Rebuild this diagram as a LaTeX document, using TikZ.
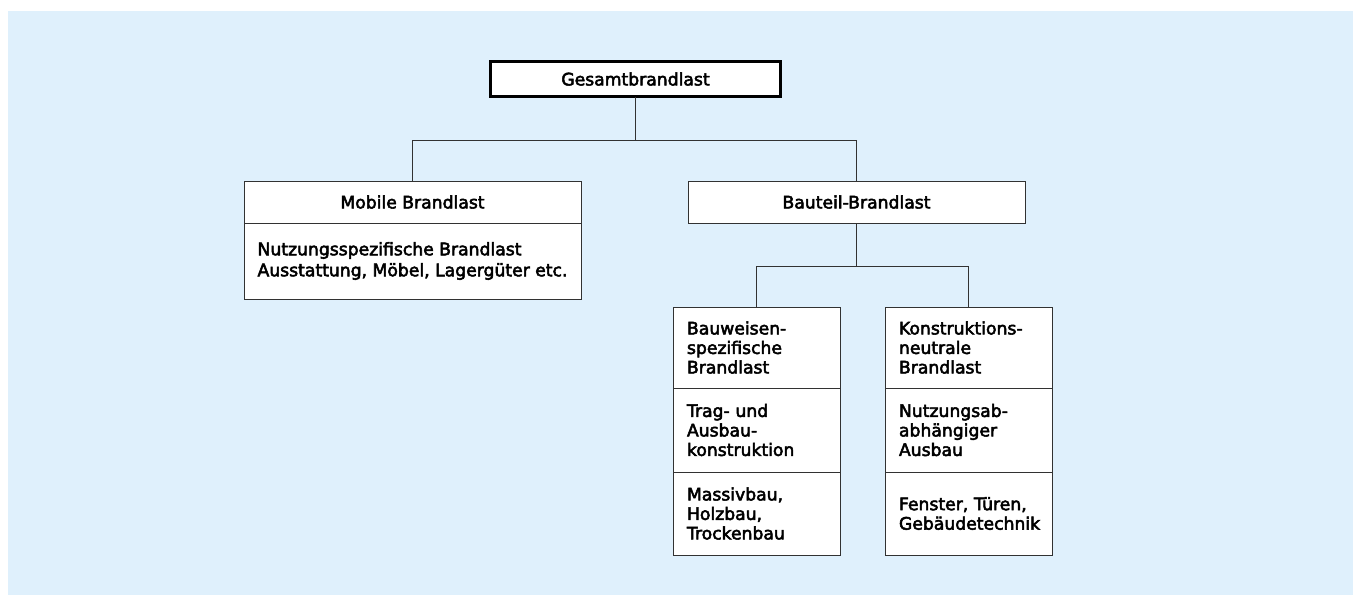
\documentclass[tikz,border=0pt]{standalone}
\usepackage{fontspec}
\setmainfont{DejaVu Sans}[FakeBold=3]
\usetikzlibrary{positioning}
\hyphenpenalty=10000
\definecolor{hgblau}{RGB}{223,240,252}
\definecolor{linie}{RGB}{50,50,50}
\tikzset{
  feld/.style={draw=linie, line width=1pt, fill=white, outer sep=0pt, inner sep=0pt,
    font=\fontsize{17.2}{19.5}\selectfont},
  kopf/.style={feld, minimum width=337pt, minimum height=42pt},
  inhalt/.style={feld, minimum width=337pt, minimum height=76pt, align=left,
    font=\fontsize{17.2}{21}\selectfont},
  spalte/.style={feld, text width=139pt, inner xsep=14pt, align=left},
  ast/.style={draw=linie, line width=1pt}
}
\begin{document}
\begin{tikzpicture}[x=1pt, y=-1pt]

% Background
\useasboundingbox (0,0) rectangle (1353,595);
\fill[hgblau] (8,11) rectangle (1353,595);

% Top
\node[feld, draw=black, line width=2.8pt, minimum width=290pt, minimum height=35pt] (ges) at (635.5,79) {Gesamtbrandlast};

% Second level
\node[kopf] (mob) at (412.5,202) {Mobile Brandlast};
\node[inhalt, below=0pt of mob] (mobtext) {Nutzungsspezifische Brandlast\\ Ausstattung, Möbel, Lagergüter etc.};
\node[kopf] (bauteil) at (856.5,202) {Bauteil-Brandlast};

% Third level, left column
\node[spalte, minimum height=81pt] (bw1) at (756.5,347.5) {Bauweisen-\\ spezifische\\ Brandlast};
\node[spalte, minimum height=84pt, below=0pt of bw1] (bw2) {Trag- und\\ Ausbau-\\ konstruktion};
\node[spalte, minimum height=83pt, below=0pt of bw2] (bw3) {Massivbau,\\ Holzbau,\\ Trockenbau};

% Third level, right column
\node[spalte, minimum height=81pt] (ko1) at (968.5,347.5) {Konstruktions-\\ neutrale\\ Brandlast};
\node[spalte, minimum height=84pt, below=0pt of ko1] (ko2) {Nutzungsab-\\ abhängiger\\ Ausbau};
\node[spalte, minimum height=83pt, below=0pt of ko2] (ko3) {Fenster, Türen,\\ Gebäudetechnik};

% Branches
\coordinate (gabel1) at (635.5,140.5);
\coordinate (gabel2) at (856.5,266.5);
\draw[ast] (ges.south) -- (gabel1);
\draw[ast] (mob.north) |- (gabel1) -| (bauteil.north);
\draw[ast] (bauteil.south) -- (gabel2);
\draw[ast] (bw1.north) |- (gabel2) -| (ko1.north);

\end{tikzpicture}
\end{document}
